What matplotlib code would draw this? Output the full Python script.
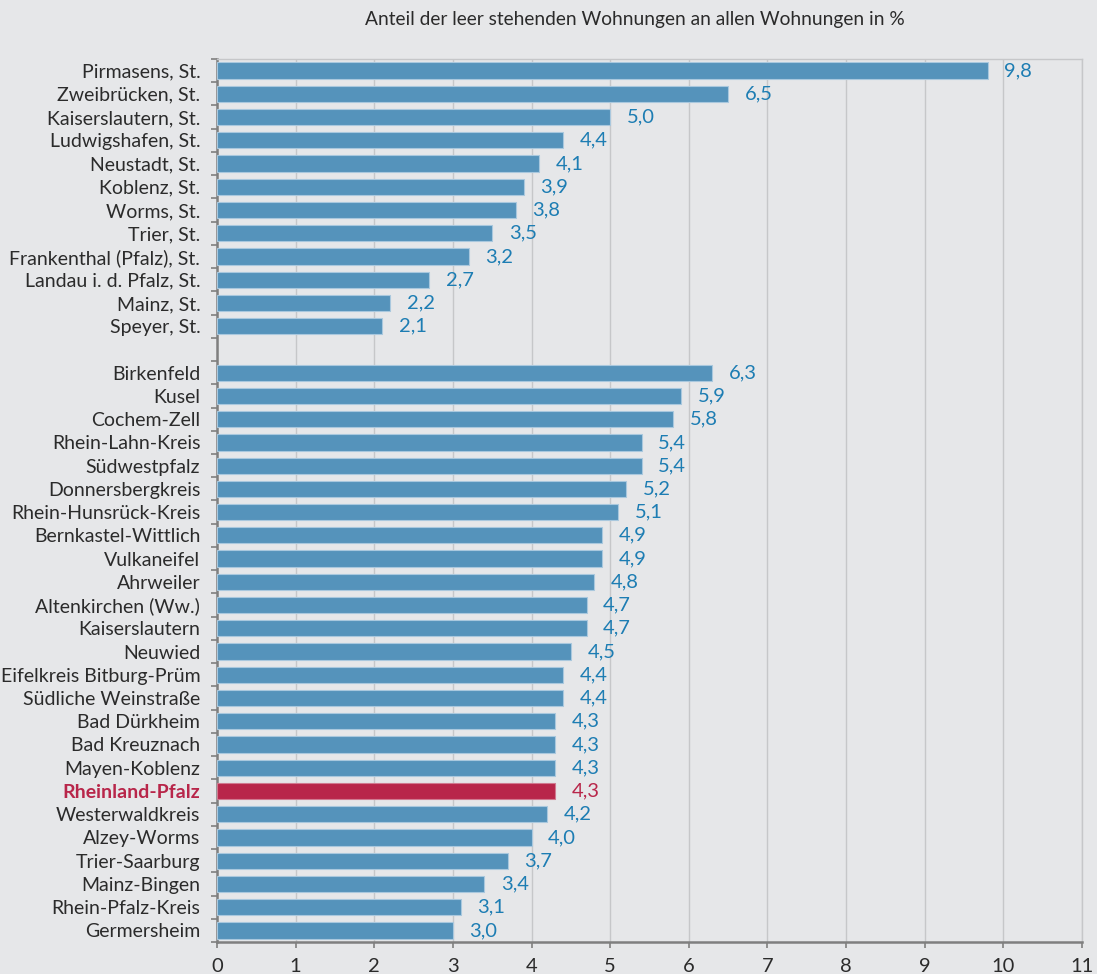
import matplotlib
matplotlib.use("Agg")
import matplotlib.pyplot as plt
import numpy as np

plt.rcParams['font.family'] = ['Lato', 'DejaVu Sans']

cities = ["Pirmasens, St.", "Zweibrücken, St.", "Kaiserslautern, St.", "Ludwigshafen, St.",
          "Neustadt, St.", "Koblenz, St.", "Worms, St.", "Trier, St.",
          "Frankenthal (Pfalz), St.", "Landau i. d. Pfalz, St.", "Mainz, St.", "Speyer, St."]
city_values = [9.8, 6.5, 5.0, 4.4, 4.1, 3.9, 3.8, 3.5, 3.2, 2.7, 2.2, 2.1]

districts = ["Birkenfeld", "Kusel", "Cochem-Zell", "Rhein-Lahn-Kreis", "Südwestpfalz",
             "Donnersbergkreis", "Rhein-Hunsrück-Kreis", "Bernkastel-Wittlich", "Vulkaneifel",
             "Ahrweiler", "Altenkirchen (Ww.)", "Kaiserslautern", "Neuwied",
             "Eifelkreis Bitburg-Prüm", "Südliche Weinstraße", "Bad Dürkheim", "Bad Kreuznach",
             "Mayen-Koblenz", "Rheinland-Pfalz", "Westerwaldkreis", "Alzey-Worms",
             "Trier-Saarburg", "Mainz-Bingen", "Rhein-Pfalz-Kreis", "Germersheim"]
district_values = [6.3, 5.9, 5.8, 5.4, 5.4, 5.2, 5.1, 4.9, 4.9, 4.8, 4.7, 4.7, 4.5,
                   4.4, 4.4, 4.3, 4.3, 4.3, 4.3, 4.2, 4.0, 3.7, 3.4, 3.1, 3.0]

highlight = "Rheinland-Pfalz"
title = "Anteil der leer stehenden Wohnungen an allen Wohnungen in %"
x_ticks = list(range(0, 12))

bg = "#e6e7e9"
bar_col = "#5593bb"
hl_col = "#b8264a"
val_col = "#1d7db3"
txt_col = "#2b2b2b"

labels = cities + [""] + districts
values = city_values + [None] + district_values
n = len(labels)

fig = plt.figure(figsize=(10.97, 9.74), dpi=100, facecolor=bg)
ax = fig.add_axes([217/1097, 1 - 942/974, (1082 - 217)/1097, (942 - 59)/974])
ax.set_facecolor(bg)

for i, (lab, v) in enumerate(zip(labels, values)):
    if v is None:
        continue
    c = hl_col if lab == highlight else bar_col
    ax.barh(i, v, height=0.7, color=c, edgecolor="#a9c8de" if lab != highlight else "#d07a90",
            linewidth=0.8, zorder=3)
    ax.text(v + 0.21, i, f"{v:.1f}".replace(".", ","), va="center", ha="left",
            fontsize=14.5, color=hl_col if lab == highlight else val_col, zorder=4)

ax.set_xlim(0, 11)
ax.set_ylim(n - 0.5, -0.5)
ax.set_xticks(x_ticks)
ax.set_xticklabels([str(t) for t in x_ticks], fontsize=14.5, color=txt_col)
ax.set_yticks(range(n))
ax.set_yticklabels(labels, fontsize=14, color=txt_col)
for tl, lab in zip(ax.get_yticklabels(), labels):
    if lab == highlight:
        tl.set_color(hl_col)
        tl.set_fontweight("bold")
ax.tick_params(axis='y', which='major', length=0, pad=12)
ax.set_yticks(np.arange(-0.5, n, 1.0), minor=True)
ax.tick_params(axis='y', which='minor', length=4.5, color="#7f7f7f", width=1.2)
ax.tick_params(axis='x', which='major', length=4.5, color="#7f7f7f", width=1.2, pad=7)

ax.grid(axis='x', color="#c6c7c9", linewidth=1.0, zorder=0)
ax.set_axisbelow(True)
for s in ['left', 'bottom']:
    ax.spines[s].set_color("#7f7f7f")
    ax.spines[s].set_linewidth(1.8)
for s in ['top', 'right']:
    ax.spines[s].set_color("#c6c7c9")
    ax.spines[s].set_linewidth(1.0)

fig.text(635/1097, 1 - 19/974, title, ha="center", va="center", fontsize=13.8, color=txt_col)

fig.savefig("out.png", dpi=100, facecolor=bg)
